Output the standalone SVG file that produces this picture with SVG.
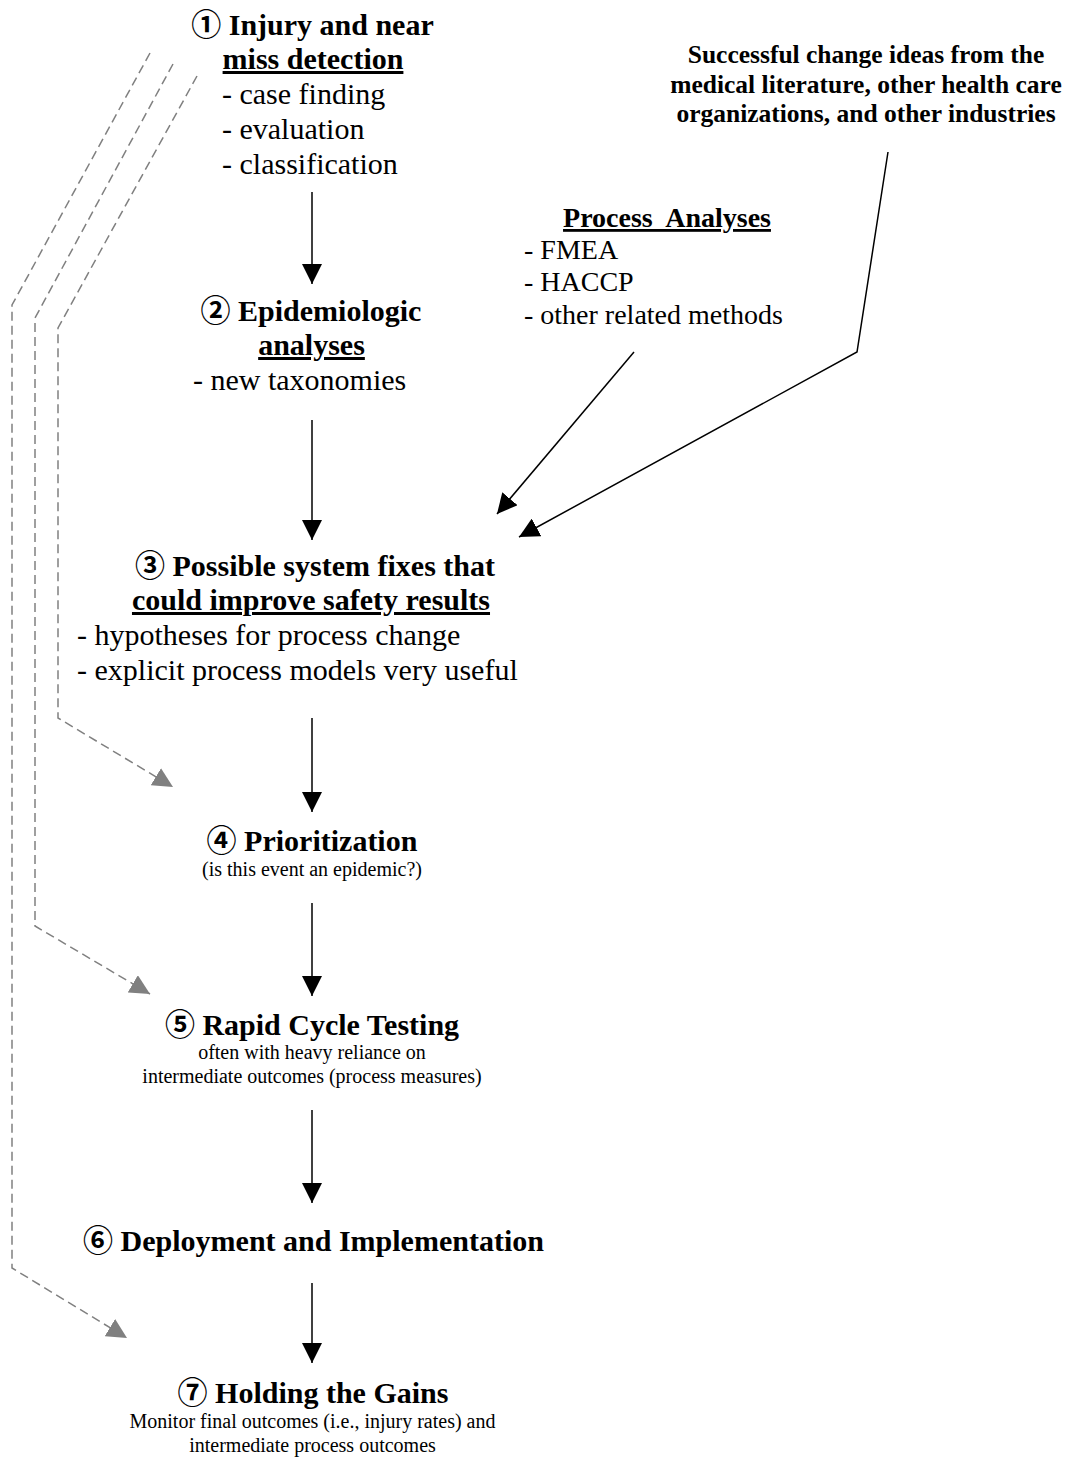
<svg xmlns="http://www.w3.org/2000/svg" width="1068" height="1458" viewBox="0 0 1068 1458">
<style>
text{font-family:"Liberation Serif","Times New Roman",serif;fill:#000}
.h{font-weight:bold;font-size:30px}
.b{font-size:30px}
.s{font-size:20px}
.p{font-size:28px}
.ph{font-size:28px;font-weight:bold}
.r{font-size:25.5px;font-weight:bold}
.c{font-family:"Noto Sans CJK JP","DejaVu Sans",sans-serif;font-weight:bold}
.u{text-decoration:underline}
.arr{stroke:#000;stroke-width:1.5;fill:none;marker-end:url(#ah)}
.dash{stroke:#808080;stroke-width:1.5;fill:none;stroke-dasharray:9 5;marker-end:url(#gh)}
</style>
<defs>
<marker id="ah" markerUnits="userSpaceOnUse" markerWidth="20" markerHeight="20" viewBox="0 0 20 20" refX="20" refY="10" orient="auto">
<path d="M0,0 L20,10 L0,20 z" fill="#000"/>
</marker>
<marker id="gh" markerUnits="userSpaceOnUse" markerWidth="20" markerHeight="20" viewBox="0 0 20 20" refX="20" refY="10" orient="auto">
<path d="M0,0 L20,10 L0,20 z" fill="#808080"/>
</marker>
</defs>

<g id="connectors">
<line class="arr" x1="312" y1="192" x2="312" y2="284"/>
<line class="arr" x1="312" y1="420" x2="312" y2="540"/>
<line class="arr" x1="312" y1="718" x2="312" y2="812"/>
<line class="arr" x1="312" y1="903" x2="312" y2="996"/>
<line class="arr" x1="312" y1="1110" x2="312" y2="1203"/>
<line class="arr" x1="312" y1="1283" x2="312" y2="1363"/>
<line class="arr" x1="634" y1="352" x2="497" y2="514"/>
<polyline class="arr" points="888,152 857,352 519,537"/>
<polyline class="dash" points="150,53 12,305 12,1268 127,1338"/>
<polyline class="dash" points="173,64 35,318 35,926 150,994"/>
<polyline class="dash" points="197,76 58,328 58,718 173,787"/>
</g>

<g id="node1">
<text class="h" x="312.5" y="35" text-anchor="middle"><tspan class="c">①</tspan> Injury and near</text>
<text class="h u" x="313" y="69" text-anchor="middle">miss detection</text>
<text class="b" x="222" y="104">- case finding</text>
<text class="b" x="222" y="139">- evaluation</text>
<text class="b" x="222" y="174">- classification</text>
</g>

<g id="node2">
<text class="h" x="311" y="321" text-anchor="middle"><tspan class="c">②</tspan> Epidemiologic</text>
<text class="h u" x="311.5" y="355" text-anchor="middle">analyses</text>
<text class="b" x="193" y="390">- new taxonomies</text>
</g>

<g id="node3">
<text class="h" x="315" y="576" text-anchor="middle"><tspan class="c">③</tspan> Possible system fixes that</text>
<text class="h u" x="311" y="610" text-anchor="middle">could improve safety results</text>
<text class="b" x="77" y="645">- hypotheses for process change</text>
<text class="b" x="77" y="680">- explicit process models very useful</text>
</g>

<g id="node4">
<text class="h" x="312" y="851" text-anchor="middle"><tspan class="c">④</tspan> Prioritization</text>
<text class="s" x="312" y="876" text-anchor="middle">(is this event an epidemic?)</text>
</g>

<g id="node5">
<text class="h" x="312" y="1035" text-anchor="middle"><tspan class="c">⑤</tspan> Rapid Cycle Testing</text>
<text class="s" x="312" y="1059" text-anchor="middle">often with heavy reliance on</text>
<text class="s" x="312" y="1083" text-anchor="middle">intermediate outcomes (process measures)</text>
</g>

<g id="node6">
<text class="h" x="313.5" y="1251" text-anchor="middle"><tspan class="c">⑥</tspan> Deployment and Implementation</text>
</g>

<g id="node7">
<text class="h" x="313" y="1403" text-anchor="middle"><tspan class="c">⑦</tspan> Holding the Gains</text>
<text class="s" x="312.5" y="1428" text-anchor="middle">Monitor final outcomes (i.e., injury rates) and</text>
<text class="s" x="312.5" y="1452" text-anchor="middle">intermediate process outcomes</text>
</g>

<g id="process-analyses">
<text class="ph u" x="667" y="227" text-anchor="middle" xml:space="preserve">Process  Analyses</text>
<text class="p" x="524" y="259">- FMEA</text>
<text class="p" x="524" y="291">- HACCP</text>
<text class="p" x="524" y="324">- other related methods</text>
</g>

<g id="change-ideas">
<text class="r" x="866" y="63" text-anchor="middle">Successful change ideas from the</text>
<text class="r" x="866" y="93" text-anchor="middle">medical literature, other health care</text>
<text class="r" x="866" y="122" text-anchor="middle">organizations, and other industries</text>
</g>
</svg>
